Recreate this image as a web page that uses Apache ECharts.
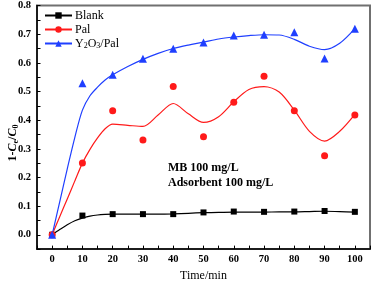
<!DOCTYPE html>
<html>
<head>
<meta charset="utf-8">
<script src="https://cdn.jsdelivr.net/npm/echarts@6/dist/echarts.min.js"></script>
<style>html,body{margin:0;padding:0;background:#fff}#c{width:373px;height:287px}</style>
</head>
<body>
<div id="c"></div>
<script>
// Measured points
var times = [0, 10, 20, 30, 40, 50, 60, 70, 80, 90, 100];
var blank = [0, 0.067, 0.072, 0.072, 0.072, 0.078, 0.081, 0.080, 0.081, 0.083, 0.080];
var pal   = [0, 0.250, 0.433, 0.331, 0.517, 0.342, 0.462, 0.553, 0.433, 0.276, 0.418];
var y2o3  = [0, 0.529, 0.558, 0.614, 0.649, 0.671, 0.695, 0.698, 0.707, 0.615, 0.719];

// Fitted curves
var curveTimes = [0, 2.5, 5, 7.5, 10, 12.5, 15, 17.5, 20, 25, 30, 35, 40, 45, 50, 55, 60, 65, 70, 75, 80, 85, 90, 95, 100];
var blankCurve = [0, 0.018, 0.035, 0.049, 0.058, 0.065, 0.069, 0.071, 0.072, 0.072, 0.072, 0.072, 0.073, 0.075, 0.077, 0.078, 0.079, 0.079, 0.079, 0.080, 0.080, 0.081, 0.082, 0.081, 0.079];
var palCurve   = [0, 0.063, 0.125, 0.188, 0.250, 0.298, 0.338, 0.370, 0.386, 0.382, 0.378, 0.418, 0.458, 0.422, 0.392, 0.412, 0.464, 0.507, 0.517, 0.498, 0.435, 0.361, 0.327, 0.361, 0.420];
var y2o3Curve  = [0, 0.115, 0.230, 0.340, 0.435, 0.485, 0.515, 0.540, 0.558, 0.587, 0.612, 0.633, 0.650, 0.662, 0.672, 0.683, 0.690, 0.695, 0.698, 0.697, 0.682, 0.658, 0.646, 0.668, 0.719];

var seriesNames = ['Blank', 'Pal', 'Y2O3/Pal'];
var colors = ['#000000', '#ff1a1a', '#1f3fff'];
var symbols = ['rect', 'circle', 'triangle'];
var symbolSizes = [6, 7, 8];
var pointSets = [blank, pal, y2o3];
var curveSets = [blankCurve, palCurve, y2o3Curve];

function pairs(xs, ys) { return xs.map(function (x, i) { return [x, ys[i]]; }); }

var series = [];
for (var k = 0; k < 3; k++) {
  series.push({
    name: seriesNames[k], type: 'line', data: pairs(curveTimes, curveSets[k]),
    smooth: 0.3, showSymbol: false, symbol: symbols[k], symbolSize: symbolSizes[k],
    lineStyle: { color: colors[k], width: 1.2 }, itemStyle: { color: colors[k] },
    z: 2, silent: true
  });
}
for (var k2 = 0; k2 < 3; k2++) {
  series.push({
    name: seriesNames[k2], type: 'scatter', data: pairs(times, pointSets[k2]),
    symbol: symbols[k2], symbolSize: symbolSizes[k2],
    itemStyle: { color: colors[k2], opacity: 1 }, z: 3
  });
}

var serif = '"Liberation Serif", "Times New Roman", serif';
var chart = echarts.init(document.getElementById('c'), null, { renderer: 'canvas' });
chart.setOption({
  animation: false,
  backgroundColor: '#fff',
  grid: { left: 37, right: 3, top: 5, bottom: 34, show: true, borderColor: '#707070', borderWidth: 2 },
  legend: {
    left: 44, top: 9, padding: 0, orient: 'vertical', itemWidth: 27, itemHeight: 8, itemGap: 1,
    data: seriesNames,
    textStyle: { fontFamily: serif, fontSize: 12, color: '#000', lineHeight: 13, padding: [0, 0, 0, -2],
      rich: { n: { fontFamily: serif, fontSize: 12, color: '#000', lineHeight: 13 },
              s: { fontFamily: serif, fontSize: 8, color: '#000', lineHeight: 8, verticalAlign: 'bottom', padding: [3, 0, 0, 0] } } },
    formatter: function (n) { return n === 'Y2O3/Pal' ? '{n|Y}{s|2}{n|O}{s|3}{n|/Pal}' : n; }
  },
  xAxis: {
    type: 'value', min: -5, max: 105, interval: 5,
    name: 'Time/min', nameLocation: 'middle', nameGap: 20,
    nameTextStyle: { fontFamily: serif, fontSize: 12, color: '#000' },
    axisLine: { onZero: false, lineStyle: { color: '#000', width: 1.5 } },
    axisTick: { inside: true, length: 3.5, lineStyle: { color: '#000', width: 1 } },
    axisLabel: { fontFamily: serif, fontWeight: 'bold', fontSize: 10.5, color: '#000', margin: 5,
      formatter: function (v) { var r = Math.round(v); return (r % 10 === 0 && r >= 0 && r <= 100) ? String(r) : ''; } },
    splitLine: { show: false }
  },
  yAxis: {
    type: 'value', min: -0.05, max: 0.8, interval: 0.05,
    axisLine: { onZero: false, lineStyle: { color: '#000', width: 1.5 } },
    axisTick: { inside: true, length: 3.5, lineStyle: { color: '#000', width: 1 } },
    axisLabel: { fontFamily: serif, fontWeight: 'bold', fontSize: 10.5, color: '#000', margin: 6,
      formatter: function (v) { var r = Math.round(v * 100); return (r % 10 === 0 && r >= 0) ? (r / 100).toFixed(1) : ''; } },
    splitLine: { show: false }
  },
  graphic: [
    { type: 'text', x: 13, y: 143, rotation: Math.PI / 2,
      style: { text: '{a|1-}{i|C}{s|e}{a|/}{i|C}{s|0}', align: 'center', verticalAlign: 'middle',
        rich: { a: { fontFamily: serif, fontWeight: 'bold', fontSize: 12, fill: '#000', lineHeight: 14 },
                i: { fontFamily: serif, fontWeight: 'bold', fontStyle: 'italic', fontSize: 12, fill: '#000', lineHeight: 14 },
                s: { fontFamily: serif, fontWeight: 'bold', fontSize: 8, fill: '#000', lineHeight: 8, verticalAlign: 'bottom', padding: [4, 0, 0, 0] } } } },
    { type: 'text', x: 168, y: 168, style: { text: 'MB 100 mg/L', fontFamily: serif, fontWeight: 'bold', fontSize: 12, fill: '#000', verticalAlign: 'middle' } },
    { type: 'text', x: 168, y: 183, style: { text: 'Adsorbent 100 mg/L', fontFamily: serif, fontWeight: 'bold', fontSize: 12, fill: '#000', verticalAlign: 'middle' } }
  ],
  series: series
});
</script>
</body>
</html>
